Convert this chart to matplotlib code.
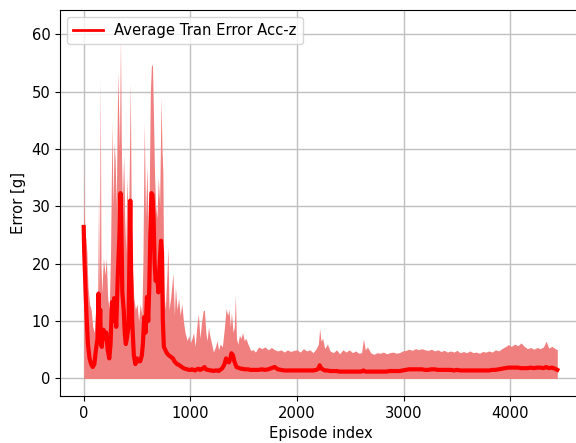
import matplotlib
matplotlib.use("Agg")
import matplotlib.pyplot as plt
import numpy as np

plt.rcParams["font.size"] = 10.6

# episode index, max error (upper edge of band), average error
episodes = [0, 5, 12, 20, 30, 40, 55, 70, 85, 100, 115, 130, 139, 147, 155, 162, 170, 185, 200, 212,
            225, 240, 252, 265, 275, 285, 295, 305, 320, 335, 345, 352, 362, 375, 385, 395, 405, 420, 437, 445,
            455, 470, 485, 500, 515, 530, 545, 555, 568, 580, 593, 605, 615, 625, 635, 645, 655, 665, 675, 687,
            700, 712, 725, 734, 742, 752, 765, 780, 790, 800, 815, 837, 850, 860, 875, 890, 905, 920, 935, 950,
            970, 985, 1000, 1015, 1030, 1045, 1060, 1075, 1090, 1105, 1120, 1132, 1145, 1157, 1170, 1185, 1200, 1216, 1235, 1250,
            1265, 1280, 1300, 1320, 1335, 1350, 1362, 1375, 1385, 1400, 1412, 1422, 1432, 1445, 1460, 1475, 1490, 1505, 1520, 1540,
            1565, 1590, 1610, 1640, 1670, 1700, 1730, 1760, 1790, 1820, 1850, 1880, 1910, 1940, 1970, 2000, 2030, 2060, 2090, 2120,
            2150, 2180, 2200, 2212, 2225, 2240, 2260, 2284, 2310, 2340, 2370, 2400, 2430, 2460, 2490, 2520, 2550, 2580, 2605, 2622,
            2640, 2660, 2690, 2720, 2750, 2780, 2810, 2840, 2870, 2900, 2930, 2960, 2990, 3020, 3050, 3080, 3110, 3140, 3170, 3200,
            3230, 3260, 3290, 3320, 3350, 3380, 3410, 3440, 3470, 3500, 3530, 3560, 3590, 3620, 3650, 3680, 3710, 3740, 3770, 3800,
            3830, 3860, 3890, 3920, 3950, 3980, 4010, 4040, 4070, 4100, 4130, 4160, 4190, 4220, 4250, 4280, 4310, 4335, 4360, 4390,
            4420, 4440]

max_err = [37.5, 30, 25, 24.5, 22, 16, 13, 12, 9, 8, 13, 12, 32, 15, 52.5, 20, 15, 21, 18, 21,
           14, 12, 22, 44.5, 30, 41, 38, 30, 53.5, 40, 59.5, 42, 30, 39, 28, 22, 35, 25, 51.5, 30,
           20, 14, 12, 13, 10, 13, 11, 20, 44.5, 28, 37, 25, 33, 50, 54.6, 54.6, 45, 35, 30, 28,
           35, 30, 48.9, 40, 36, 15, 12, 18, 22.9, 12, 14, 18.3, 11, 16, 12, 14, 11, 13, 10, 8,
           6.6, 7.5, 6.2, 7, 8, 5.5, 9, 11.3, 7, 9.8, 11.8, 11.9, 8, 6.6, 8.9, 7.2, 6, 4.6, 5.5, 6.6,
           5, 6, 5.5, 9, 12.2, 11, 12, 9, 11.5, 8, 9, 14.5, 7, 6, 7.5, 7, 8, 6.6, 7, 6,
           4.9, 5, 4.6, 5.5, 5.2, 5.5, 5, 5.4, 5, 4.8, 5, 4.6, 5, 4.7, 4.9, 5, 4.6, 5.2, 4.8, 5,
           4.5, 5.2, 6, 8.7, 6.5, 7, 5.2, 6, 4.8, 4.5, 5, 4.3, 5, 4.6, 5, 4.5, 4.8, 4.4, 4.5, 6.9,
           5, 5.5, 4.5, 4.2, 4.5, 4.4, 4.6, 4.3, 4.5, 4.6, 4.4, 4.5, 4.8, 4.9, 5.1, 4.9, 5.2, 5.0, 5.2, 5.0,
           4.9, 5.1, 4.8, 5.0, 4.7, 4.9, 4.6, 4.8, 4.6, 4.9, 4.5, 4.7, 4.5, 4.8, 4.5, 4.6, 4.4, 4.7, 4.6, 4.8,
           4.6, 5.0, 4.8, 5.2, 5.5, 5.9, 5.6, 6.0, 5.7, 6.2, 5.6, 5.2, 5.4, 5.1, 5.4, 5.2, 5.5, 6.5, 5.3, 5.6,
           5.2, 5.0]

avg_err = [26.4, 22, 18, 14, 9.6, 6, 3.5, 2.5, 2, 2.5, 5, 7, 14.8, 8, 12, 6, 5.5, 8.5, 7, 8,
           5, 3.5, 6, 13.3, 10, 14, 12.8, 9, 18, 25, 32.3, 28, 15, 12, 8, 6, 7, 9, 31, 18,
           10, 4, 2.5, 3.5, 3, 3, 4, 6, 10.7, 8, 14.2, 10, 16, 25, 32.3, 32, 28, 20, 17, 18.3,
           15, 20, 24, 22, 10, 5.5, 5, 4.4, 4.2, 4, 3.8, 3.5, 3, 2.8, 2.5, 2.4, 2.2, 2, 1.8, 1.7,
           1.6, 1.5, 1.5, 1.6, 1.5, 1.4, 1.6, 1.7, 1.5, 1.6, 1.8, 2, 1.6, 1.5, 1.5, 1.4, 1.4, 1.3, 1.4, 1.4,
           1.3, 1.5, 1.8, 2.5, 3.5, 3, 2.8, 3.5, 4.4, 4, 3, 2.5, 2, 1.9, 1.8, 1.7, 1.7, 1.6, 1.6, 1.6,
           1.5, 1.5, 1.5, 1.5, 1.6, 1.5, 1.6, 1.8, 2, 1.6, 1.5, 1.4, 1.4, 1.4, 1.4, 1.4, 1.4, 1.4, 1.4, 1.4,
           1.4, 1.5, 1.7, 2.3, 1.8, 1.6, 1.4, 1.4, 1.3, 1.3, 1.3, 1.2, 1.2, 1.2, 1.2, 1.2, 1.2, 1.2, 1.2, 1.4,
           1.2, 1.2, 1.2, 1.2, 1.2, 1.2, 1.2, 1.2, 1.3, 1.3, 1.3, 1.3, 1.4, 1.5, 1.6, 1.6, 1.6, 1.6, 1.6, 1.5,
           1.5, 1.6, 1.6, 1.5, 1.5, 1.5, 1.5, 1.5, 1.4, 1.5, 1.4, 1.4, 1.4, 1.4, 1.4, 1.4, 1.4, 1.4, 1.4, 1.4,
           1.5, 1.5, 1.6, 1.7, 1.8, 1.9, 1.9, 1.9, 1.9, 1.8, 1.8, 1.8, 1.9, 1.8, 1.9, 1.9, 1.8, 2.0, 1.8, 1.9,
           1.7, 1.5]

fig = plt.figure(figsize=(5.76, 4.43), dpi=100)
ax = fig.add_axes([60 / 576, 47 / 443, 521 / 576, 386 / 443])

ax.fill_between(episodes, 0, max_err, color="lightcoral", linewidth=0)
ax.plot(episodes, avg_err, color="red", linewidth=3, label="Average Tran Error Acc-z")

ax.set_xlim(-222, 4662)
ax.set_ylim(-3.05, 64.2)
ax.grid(True, color="#c0c0c0", linewidth=1)
ax.set_axisbelow(True)
ax.set_xlabel("Episode index")
ax.set_ylabel("Error [g]")
leg = ax.legend(loc="upper left")
leg.get_lines()[0].set_linewidth(2)

fig.savefig("out.png", dpi=100)
